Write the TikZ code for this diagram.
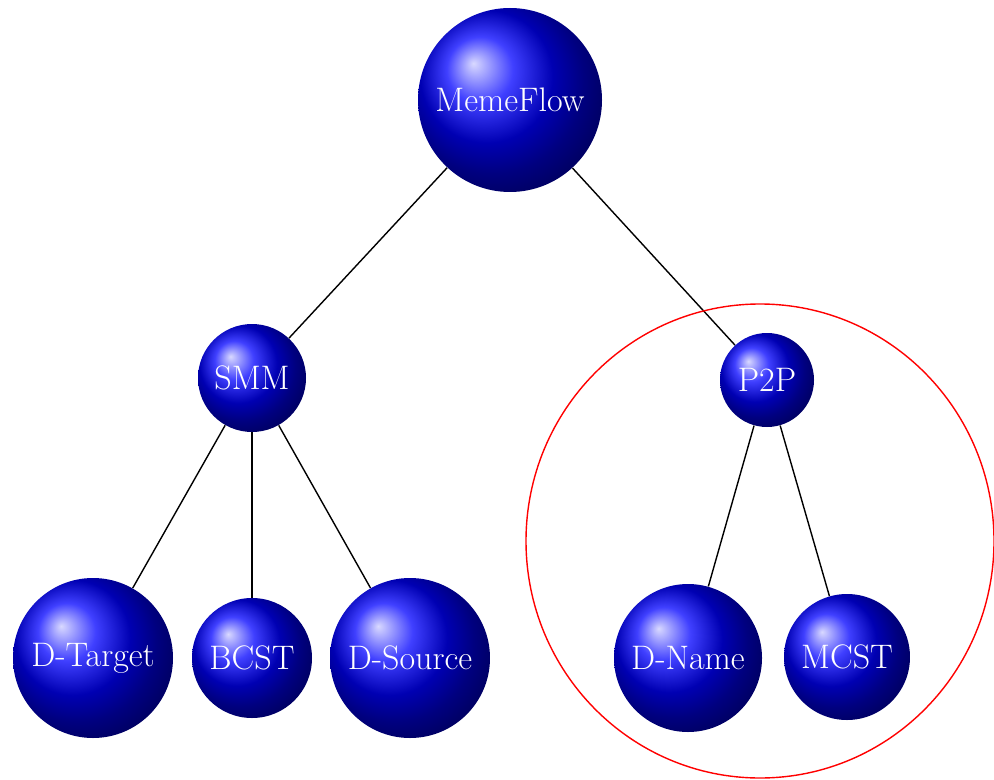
\documentclass[tikz,border=0pt]{standalone}
\usetikzlibrary{shadings}
\begin{document}
\begin{tikzpicture}[x=0.5pt,y=-0.5pt,
  ballnode/.style={circle,ball color=blue,text=white,inner sep=0pt,
    font=\fontsize{17}{20}\selectfont},
  link/.style={black,line width=0.7pt},
  group/.style={red,line width=0.7pt}]
\useasboundingbox (0,0) rectangle (994,780);
\node[ballnode,minimum size=92pt] (meme) at (510,100) {MemeFlow};
\node[ballnode,minimum size=54pt] (smm) at (252,378) {SMM};
\node[ballnode,minimum size=47pt] (p2p) at (767,380) {P2P};
\node[ballnode,minimum size=80pt] (dtarget) at (93,658) {D-Target};
\node[ballnode,minimum size=60pt] (bcst) at (252,658) {BCST};
\node[ballnode,minimum size=80pt] (dsource) at (410,658) {D-Source};
\node[ballnode,minimum size=74pt] (dname) at (688,658) {D-Name};
\node[ballnode,minimum size=63pt] (mcst) at (847,657) {MCST};
\draw[link] (meme) -- (smm);
\draw[link] (meme) -- (p2p);
\draw[link] (smm) -- (dtarget);
\draw[link] (smm) -- (bcst);
\draw[link] (smm) -- (dsource);
\draw[link] (p2p) -- (dname);
\draw[link] (p2p) -- (mcst);
\coordinate (gc) at (760,541);
\draw[group] (gc) circle [x radius=117pt, y radius=118.5pt];
\end{tikzpicture}
\end{document}
